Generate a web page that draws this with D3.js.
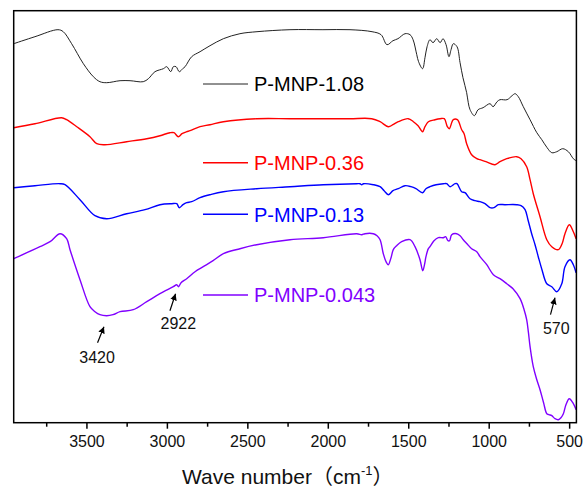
<!DOCTYPE html>
<html>
<head>
<meta charset="utf-8">
<script src="https://cdn.jsdelivr.net/npm/d3@7/dist/d3.min.js"></script>
<style>
  html, body { margin: 0; padding: 0; background: #fff; }
  svg { display: block; }
  text { font-family: "Liberation Sans", Arial, "Noto Sans CJK SC", sans-serif; }
</style>
</head>
<body>
<svg id="chart" width="583" height="489"></svg>
<script>
// ---------- DATA (wavenumber cm^-1, transmittance a.u. with vertical offsets) ----------
const seriesNames = ["P-MNP-1.08", "P-MNP-0.36", "P-MNP-0.13", "P-MNP-0.043"];

const wn108 = [3952,3820,3677,3644,3592,3519,3457,3416,3374,3291,3229,3147,3115,3074,3022,3001,2976,2960,2943,2923,2902,2887,2846,2794,2732,2649,2546,2440,2235,2030,1862,1725,1669,1632,1595,1564,1520,1489,1470,1447,1436,1411,1396,1383,1365,1346,1323,1302,1284,1265,1247,1234,1220,1197,1178,1160,1137,1127,1116,1089,1066,1035,992,973,948,930,886,855,836,816,785,743,701,670,637,608,577,540,505,474,457];
const t108  = [37.9,38.6,39.3,39.1,37.9,35.9,34.6,34.1,34.0,34.2,34.2,34.1,34.4,35.1,35.4,35.6,35.1,35.6,35.6,35.1,35.4,35.6,36.6,37.1,37.7,38.4,38.9,39.1,39.3,39.3,39.3,39.1,38.8,37.8,38.2,38.4,38.9,38.8,38.3,36.8,36.1,35.4,36.5,37.6,38.3,38.0,38.4,38.0,38.4,37.8,36.6,37.3,37.9,37.6,36.0,34.5,33.0,32.0,31.3,30.7,31.3,31.5,31.9,31.6,32.1,32.3,32.3,32.7,32.9,32.6,31.6,30.3,29.0,28.3,27.5,27.0,27.1,27.4,27.1,26.4,26.2];

const wn036 = [3952,3820,3654,3623,3560,3478,3436,3385,3250,3125,3043,2981,2956,2929,2906,2877,2856,2794,2732,2649,2442,2235,2028,1862,1727,1675,1624,1595,1562,1500,1468,1439,1411,1396,1375,1334,1302,1276,1257,1245,1220,1195,1168,1153,1137,1106,1074,1054,1017,961,930,888,826,799,764,743,723,681,639,608,567,544,526,499,474,457];
const t036  = [29.5,29.9,30.5,30.3,29.6,28.6,27.9,27.8,28.1,28.4,28.7,29.0,29.0,28.6,28.9,29.1,29.2,29.6,29.8,30.1,30.4,30.4,30.4,30.4,30.4,30.1,29.6,29.8,30.1,30.4,30.1,29.7,29.1,29.6,30.1,30.3,30.4,30.4,29.6,29.4,30.3,30.3,29.3,28.9,27.9,26.8,26.4,26.3,26.1,25.8,26.1,26.4,26.6,26.4,25.6,24.3,22.9,20.6,18.3,17.6,17.3,17.9,18.9,19.8,19.1,18.4];

const wn013 = [3952,3820,3664,3633,3540,3447,3374,3250,3136,3043,2970,2939,2923,2900,2877,2846,2794,2732,2649,2442,2235,2028,1820,1800,1789,1778,1717,1675,1650,1624,1595,1562,1520,1483,1452,1411,1390,1365,1327,1282,1261,1240,1209,1197,1168,1147,1116,1085,1054,1023,992,967,940,899,826,799,774,756,733,712,692,669,639,608,577,546,526,495,474,457];
const t013  = [23.5,23.7,23.9,23.8,22.3,20.7,20.4,20.9,21.3,21.8,21.9,21.9,21.5,21.8,22.0,22.1,22.5,22.8,23.1,23.4,23.6,23.8,23.9,23.9,23.8,23.9,23.8,23.6,23.2,22.8,23.2,23.4,23.7,23.6,23.4,23.0,23.4,23.6,23.8,23.9,23.9,23.6,23.9,23.9,23.1,23.0,22.4,22.2,22.1,21.9,21.5,21.5,21.8,21.8,21.8,21.7,21.3,20.3,18.9,17.8,16.6,15.3,13.9,13.6,13.1,13.9,15.6,16.3,15.8,15.0];

const wn0043 = [3952,3789,3726,3664,3623,3602,3540,3478,3447,3416,3374,3335,3291,3209,3125,3043,2960,2939,2928,2912,2877,2825,2774,2713,2649,2546,2442,2235,2028,1820,1789,1769,1717,1694,1675,1655,1638,1624,1607,1593,1572,1541,1489,1458,1427,1410,1399,1390,1375,1365,1340,1313,1282,1268,1253,1243,1230,1199,1178,1158,1135,1106,1074,1054,1012,971,930,888,849,805,780,764,753,743,723,703,681,659,639,625,608,588,567,551,536,520,499,474,457];
const t0043  = [16.4,17.6,18.1,18.9,18.4,17.3,14.3,11.6,11.1,10.8,10.7,10.8,11.1,11.3,12.1,12.9,13.6,13.8,13.6,14.0,14.4,15.1,15.6,16.2,16.9,17.4,17.8,18.3,18.5,18.9,18.8,18.9,18.9,18.7,18.3,16.9,16.1,15.8,16.5,17.3,17.7,18.1,18.3,17.6,16.3,15.2,15.8,16.6,17.4,17.6,18.2,18.5,18.5,18.6,18.2,18.2,18.8,18.9,18.7,18.3,17.9,17.4,17.1,16.6,15.8,14.8,14.4,13.9,13.4,12.4,11.3,10.3,9.0,7.6,5.6,4.4,3.3,2.0,0.9,0.8,0.7,0.4,0.3,0.5,0.9,1.8,2.4,1.9,1.3];

const xTickValues = [3500, 3000, 2500, 2000, 1500, 1000, 500];
const xMinorTickValues = [3750, 3250, 2750, 2250, 1750, 1250, 750];

// Peak annotations: label, arrow tip (wn, T), arrow tail (wn, T), label anchor (wn, T)
const annotLabels = ["3420", "2922", "570"];
const annotTip  = [[3391, 9.6], [2946, 12.9], [588, 12.5]];
const annotTail = [[3431, 8.0], [2981, 11.2], [616, 10.8]];
const annotText = [[3434, 6.0], [2929, 9.4], [580, 8.9]];

// ---------- STYLE / LAYOUT ----------
const colors = ["#222222", "#ff0000", "#0000ff", "#8000ff"];
const legendY = [84, 162.7, 214.3, 295];
const margin = { left: 13.7, top: 10.7, right: 576.4, bottom: 422.7 };

const svg = d3.select("#chart");

const x = d3.scaleLinear().domain([3952, 455]).range([margin.left, margin.right]);
const y = d3.scaleLinear().domain([0, 41.2]).range([margin.bottom, margin.top]);

svg.append("defs").append("clipPath").attr("id", "clip")
  .append("rect")
  .attr("x", margin.left).attr("y", margin.top)
  .attr("width", margin.right - margin.left).attr("height", margin.bottom - margin.top);

const seriesData = [
  d3.zip(wn108, t108),
  d3.zip(wn036, t036),
  d3.zip(wn013, t013),
  d3.zip(wn0043, t0043)
];

const line = d3.line()
  .x(d => x(d[0]))
  .y(d => y(d[1]))
  .curve(d3.curveCatmullRom.alpha(0.5));

const plot = svg.append("g").attr("clip-path", "url(#clip)");
seriesData.forEach((data, i) => {
  plot.append("path")
    .datum(data)
    .attr("fill", "none")
    .attr("stroke", colors[i])
    .attr("stroke-width", i === 0 ? 1.0 : 1.4)
    .attr("stroke-linejoin", "round")
    .attr("d", line);
});

// Frame
svg.append("rect")
  .attr("x", margin.left).attr("y", margin.top)
  .attr("width", margin.right - margin.left).attr("height", margin.bottom - margin.top)
  .attr("fill", "none").attr("stroke", "#000").attr("stroke-width", 1.5);

// Bottom axis
const axisG = svg.append("g").attr("transform", `translate(0,${margin.bottom})`);
axisG.call(d3.axisBottom(x).tickValues(xTickValues).tickSize(6).tickPadding(7).tickFormat(d3.format("d")))
  .call(g => g.select(".domain").remove())
  .call(g => g.selectAll(".tick line").attr("stroke", "#000").attr("stroke-width", 1.5))
  .call(g => g.selectAll(".tick text")
    .attr("fill", "#111")
    .style("font-family", '"Liberation Sans", Arial, sans-serif')
    .style("font-size", "16px"));
const minorG = svg.append("g").attr("transform", `translate(0,${margin.bottom})`);
minorG.call(d3.axisBottom(x).tickValues(xMinorTickValues).tickSize(4).tickFormat(""))
  .call(g => g.select(".domain").remove())
  .call(g => g.selectAll(".tick line").attr("stroke", "#000").attr("stroke-width", 1.5));

// Axis title
const title = svg.append("text")
  .attr("x", 182).attr("y", 483.5)
  .attr("fill", "#111")
  .style("font-size", "21px");
title.append("tspan").text("Wave number");
title.append("tspan").text("（").style("font-family", '"Noto Sans CJK SC", sans-serif');
title.append("tspan").text("cm");
title.append("tspan").text("-1").attr("dy", -9).style("font-size", "13px");
title.append("tspan").text("）").attr("dy", 9).style("font-family", '"Noto Sans CJK SC", sans-serif');

// Legend
seriesNames.forEach((name, i) => {
  svg.append("line")
    .attr("x1", 203).attr("x2", 248)
    .attr("y1", legendY[i]).attr("y2", legendY[i])
    .attr("stroke", colors[i]).attr("stroke-width", i === 0 ? 1.0 : 1.4);
  svg.append("text")
    .attr("x", 254).attr("y", legendY[i] + 7.3)
    .attr("fill", i === 0 ? "#000" : colors[i])
    .style("font-size", "20px")
    .text(name);
});

// Annotations with arrows
svg.select("defs").append("marker")
  .attr("id", "arrow")
  .attr("viewBox", "0 0 10 10")
  .attr("refX", 10).attr("refY", 5)
  .attr("markerWidth", 5.5).attr("markerHeight", 5.5)
  .attr("markerUnits", "strokeWidth")
  .attr("orient", "auto")
  .append("path").attr("d", "M0,0 L10,5 L0,10 z").attr("fill", "#000");

annotLabels.forEach((lab, i) => {
  svg.append("line")
    .attr("x1", x(annotTail[i][0])).attr("y1", y(annotTail[i][1]))
    .attr("x2", x(annotTip[i][0])).attr("y2", y(annotTip[i][1]))
    .attr("stroke", "#000").attr("stroke-width", 1.2)
    .attr("marker-end", "url(#arrow)");
  svg.append("text")
    .attr("x", x(annotText[i][0])).attr("y", y(annotText[i][1]))
    .attr("text-anchor", "middle")
    .attr("fill", "#111")
    .style("font-size", "16px")
    .text(lab);
});
</script>
</body>
</html>
